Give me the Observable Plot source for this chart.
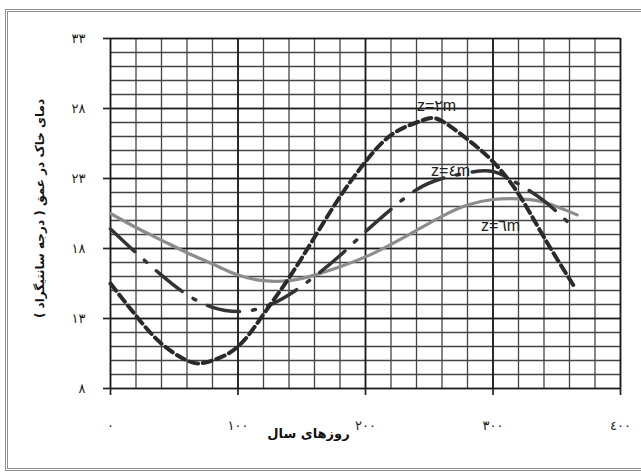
<!DOCTYPE html>
<html><head><meta charset="utf-8">
<script src="https://cdn.jsdelivr.net/npm/d3@7"></script>
<script src="https://cdn.jsdelivr.net/npm/@observablehq/plot@0.6"></script>
<style>
html,body{margin:0;padding:0;background:#fff;}
#wrap{position:relative;width:641px;height:472px;overflow:hidden;}
#frame{position:absolute;left:5px;top:9px;width:700px;height:462px;border:3px double #8f8f8f;box-sizing:border-box;}
#chart{position:absolute;left:0;top:0;}
</style></head><body>
<div id="wrap"><div id="frame"></div><div id="chart"></div></div>
<script>
// z = 2 m
const days2 = [0, 20, 40, 60, 70, 80, 100, 120, 140, 160, 180, 200, 220, 240, 250, 260, 280, 300, 320, 340, 365];
const temp2 = [15.5, 13.2, 11.2, 10.0, 9.8, 10.0, 11.0, 13.3, 15.9, 18.8, 21.7, 24.2, 26.1, 27.0, 27.3, 27.1, 25.8, 24.2, 21.9, 18.8, 15.1];
// z = 4 m
const days4 = [0, 20, 40, 60, 80, 100, 120, 140, 160, 180, 200, 220, 240, 260, 280, 300, 320, 340, 362];
const temp4 = [19.4, 17.7, 16.1, 14.7, 13.8, 13.5, 13.8, 14.7, 16.0, 17.5, 19.2, 20.8, 22.2, 23.0, 23.4, 23.5, 22.6, 21.4, 19.6];
// z = 6 m
const days6 = [0, 20, 40, 60, 80, 100, 120, 140, 160, 180, 200, 220, 240, 260, 280, 300, 320, 340, 366];
const temp6 = [20.5, 19.5, 18.6, 17.7, 16.9, 16.1, 15.7, 15.7, 16.1, 16.7, 17.4, 18.3, 19.3, 20.3, 21.1, 21.5, 21.55, 21.3, 20.4];

const seriesNames = ["z=٢m", "z=٤m", "z=٦m"];
const labelDay = [255.7, 266.7, 305.9];
const labelTemp = [28.2, 23.57, 19.64];

const xTicks = [0, 100, 200, 300, 400];
const yTicks = [8, 13, 18, 23, 28, 33];
const xMinor = d3.range(0, 401, 20);
const yMinor = d3.range(8, 34, 1);

const xTitle = "روزهای سال";
const yTitle = "دمای خاک در عمق ( درجه سانتیگراد )";

const fa = n => String(n).replace(/\d/g, d => "٠١٢٣٤٥٦٧٨٩"[d]);
const mk = (ds, ts) => ds.map((d, i) => ({day: d, t: ts[i]}));
const s2 = mk(days2, temp2), s4 = mk(days4, temp4), s6 = mk(days6, temp6);
const labels = seriesNames.map((n, i) => ({name: n, day: labelDay[i], t: labelTemp[i]}));

const chart = Plot.plot({
  width: 641, height: 472,
  marginLeft: 110, marginRight: 21, marginTop: 38, marginBottom: 84,
  x: {domain: [0, 400]},
  y: {domain: [8, 33]},
  style: {background: "transparent", fontFamily: "'DejaVu Sans', sans-serif", color: "#222"},
  marks: [
    Plot.ruleX(xMinor, {stroke: "#444", strokeWidth: 1.3}),
    Plot.ruleY(yMinor, {stroke: "#444", strokeWidth: 1.3}),
    Plot.ruleX(xTicks, {stroke: "#1a1a1a", strokeWidth: 1.7}),
    Plot.ruleY(yTicks, {stroke: "#1a1a1a", strokeWidth: 1.7}),
    Plot.axisX({ticks: xTicks, tickSize: 7, tickPadding: 25, tickFormat: fa, fontSize: 13, label: null, strokeWidth: 1.7}),
    Plot.axisY({ticks: yTicks, tickSize: 7, tickPadding: 18, tickFormat: fa, fontSize: 13, label: null, strokeWidth: 1.7}),
    Plot.line(s6, {x: "day", y: "t", curve: "natural", stroke: "#8c8c8c", strokeWidth: 3.2}),
    Plot.line(s4, {x: "day", y: "t", curve: "natural", stroke: "#333", strokeWidth: 3.5, strokeDasharray: "33,13,3,13"}),
    Plot.line(s2, {x: "day", y: "t", curve: "natural", stroke: "#2a2a2a", strokeWidth: 4, strokeDasharray: "9,5"}),
    Plot.text(labels, {x: "day", y: "t", text: "name", fontSize: 16, fill: "#222", fontFamily: "'Liberation Sans', 'DejaVu Sans', sans-serif"}),
    Plot.text([xTitle], {frameAnchor: "bottom", textAnchor: "middle", dx: -57, dy: 49, fontSize: 13, fontWeight: "bold", fill: "#111"}),
    Plot.text([yTitle], {frameAnchor: "left", textAnchor: "middle", lineAnchor: "middle", dx: -70, dy: -5, rotate: -90, fontSize: 12, fontWeight: "bold", fill: "#111"})
  ]
});
document.getElementById("chart").append(chart);
</script>
</body></html>
